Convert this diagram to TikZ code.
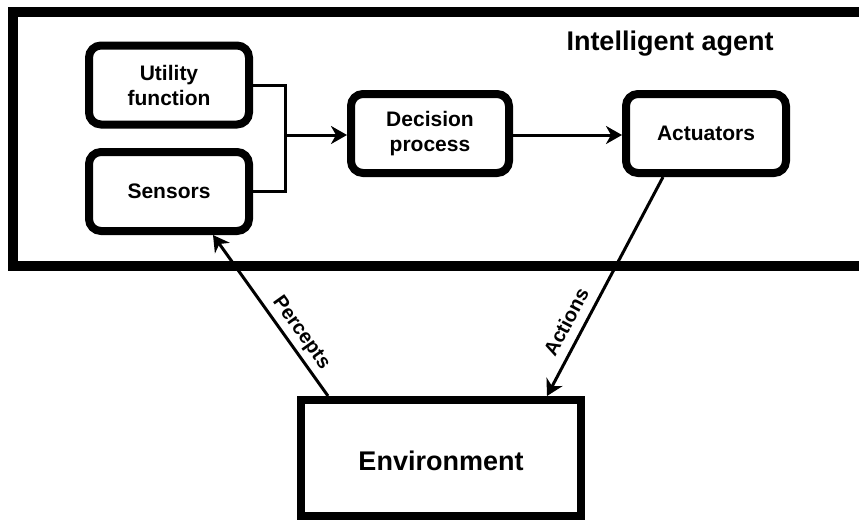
\documentclass[tikz,border=0pt]{standalone}
\usepackage{fontspec}
\setmainfont{Liberation Sans}
\usetikzlibrary{arrows.meta,calc}

\begin{document}
\begin{tikzpicture}[x=1pt,y=-1pt,
  box/.style={draw, line width=8pt, rounded corners=12pt,
    minimum width=160pt, minimum height=79pt, align=center, inner sep=0pt,
    font=\fontsize{21}{25}\selectfont\bfseries},
  bigtext/.style={font=\fontsize{27}{32}\selectfont\bfseries, inner sep=0pt},
  wire/.style={line width=3pt},
  link/.style={wire, -{Stealth[length=16pt,width=18pt,inset=5pt]}},
  edgelabel/.style={font=\fontsize{20}{24}\selectfont\bfseries, inner sep=2pt}
]
\useasboundingbox (0,0) rectangle (859,523);
\clip (0,0) rectangle (859,523);

% agent container
\draw[line width=10pt] (13,12) rectangle (880,266);
\node[bigtext, anchor=base] (title) at (670,50) {Intelligent agent};

% inner components
\node[box] (util) at (169,85)    {Utility\\function};
\node[box] (sens) at (169,191.5) {Sensors};
\node[box, minimum width=158pt] (dec) at (430,133.5) {Decision\\process};
\node[box] (act) at (706,133.5)  {Actuators};

% environment
\node[draw, line width=8pt, minimum width=280pt, minimum height=116pt,
      inner sep=0pt] (env) at (441,458) {};
\node[bigtext, anchor=base] (envtext) at (441,470) {Environment};

% internal wiring
\coordinate (join) at (285,135);
\draw[wire] (util.east) -| (join);
\draw[wire] (sens.east) -| (join);
\draw[link] (join) -- (dec.west |- join);
\draw[link] (dec.east |- join) -- (act.west |- join);

% interaction with the environment
\draw[link] ([xshift=-113pt]env.north) --
  node[sloped, above=2pt, pos=0.338, edgelabel] {Percepts} ([xshift=44pt]sens.south);
\draw[link] ([xshift=-43pt]act.south) --
  node[sloped, above=7pt, pos=0.70, edgelabel] {Actions} ([xshift=106pt]env.north);
\end{tikzpicture}
\end{document}
